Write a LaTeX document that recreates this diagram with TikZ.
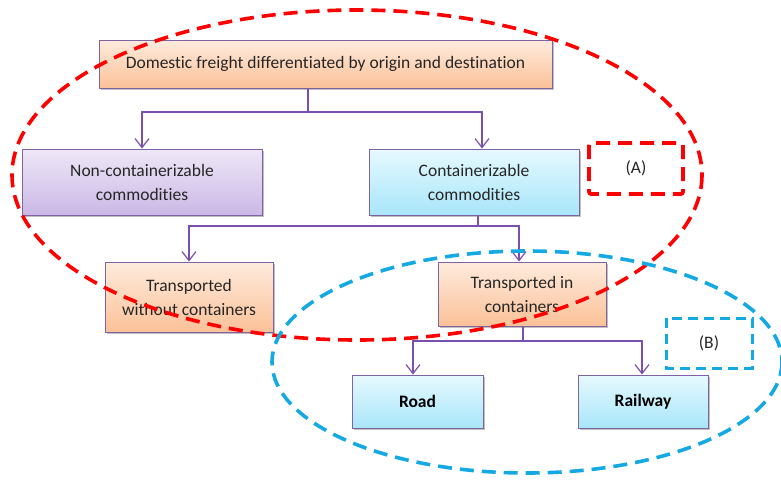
\documentclass[tikz,border=0pt]{standalone}
\usepackage{fontspec}
\setmainfont{Carlito}[Ligatures={NoCommon}]
\usetikzlibrary{arrows.meta,shadows}
\definecolor{bordc}{HTML}{8064A2}
\definecolor{linec}{HTML}{7A4FAE}
\definecolor{txtc}{HTML}{262626}
\definecolor{orT}{HTML}{FEEBDD}
\definecolor{orB}{HTML}{FBC198}
\definecolor{puT}{HTML}{EEE7F7}
\definecolor{puB}{HTML}{CBB8E6}
\definecolor{cyT}{HTML}{E6F9FE}
\definecolor{cyB}{HTML}{A8E6FA}
\definecolor{redd}{HTML}{FF0000}
\definecolor{blued}{HTML}{15A9E3}
\tikzset{
  x=1pt, y=-1pt,
  box/.style={draw=bordc, line width=1pt, align=center, text=txtc, font=\fontsize{17.5}{24}\selectfont,
    drop shadow={shadow xshift=2pt, shadow yshift=-2pt, opacity=0.25, fill=black}},
  orbox/.style={box, top color=orT, bottom color=orB},
  pubox/.style={box, top color=puT, bottom color=puB},
  cybox/.style={box, top color=cyT, bottom color=cyB},
  conn/.style={draw=linec, line width=1.2pt},
  arr/.style={conn, -{Straight Barb[length=9pt,width=14pt,line width=1.2pt]}},
  reddash/.style={draw=redd, line width=3.6pt, dash pattern=on 14pt off 8pt},
  bluedash/.style={draw=blued, line width=3.6pt, dash pattern=on 14pt off 8pt},
  tag/.style={text=txtc, font=\fontsize{17.5}{20}\selectfont},
}
\begin{document}
\begin{tikzpicture}
\useasboundingbox (0,0) rectangle (781,488);
\node[orbox, minimum width=453pt, minimum height=48pt] (top) at (325.5,64) {Domestic freight differentiated by origin and destination};
\node[pubox, minimum width=240pt, minimum height=66pt] (noncont) at (142,182) {Non-containerizable\\commodities};
\node[cybox, minimum width=210pt, minimum height=66pt] (cont) at (474,182) {Containerizable\\commodities};
\node[orbox, minimum width=168pt, minimum height=70pt] (twout) at (189,297) {Transported\\without containers};
\node[orbox, minimum width=168pt, minimum height=64pt] (tin) at (522,294) {Transported in\\containers};
\node[cybox, minimum width=131pt, minimum height=53pt, text=black, font=\fontsize{17.5}{24}\selectfont\bfseries] (road) at (417.5,401.5) {Road};
\node[cybox, minimum width=130pt, minimum height=53pt, text=black, font=\fontsize{17.5}{24}\selectfont\bfseries] (rail) at (643,401.5) {Railway};
% connectors
\coordinate (j1) at (308,112);
\coordinate (a1) at (482,112);
\draw[conn] (top.south -| j1) -- (j1);
\draw[arr] (j1) -| (noncont.north);
\draw[arr] (j1) -- (a1) -- (cont.north -| a1);
\coordinate (j2) at (478,226);
\coordinate (a2) at (519,226);
\draw[conn] (cont.south -| j2) -- (j2);
\draw[arr] (j2) -| (twout.north);
\draw[arr] (j2) -- (a2) -- (tin.north -| a2);
\coordinate (j3) at (523,341);
\coordinate (a3) at (413,341);
\coordinate (a4) at (642,341);
\draw[conn] (tin.south -| j3) -- (j3);
\draw[arr] (j3) -- (a3) -- (road.north -| a3);
\draw[arr] (j3) -- (a4) -- (rail.north -| a4);
% tags
\draw[reddash, rounded corners=2pt] (589,143) rectangle (683,194);
\node[tag] (A) at (636,168) {(A)};
\draw[bluedash, line width=3pt, dash pattern=on 10pt off 6pt] (666,318) rectangle (752,368);
\node[tag] (B) at (709,343) {(B)};
% ellipses
\draw[reddash] (357,175) ellipse [x radius=345, y radius=165];
\draw[bluedash] (527,362) ellipse [x radius=255, y radius=111];
\end{tikzpicture}
\end{document}
